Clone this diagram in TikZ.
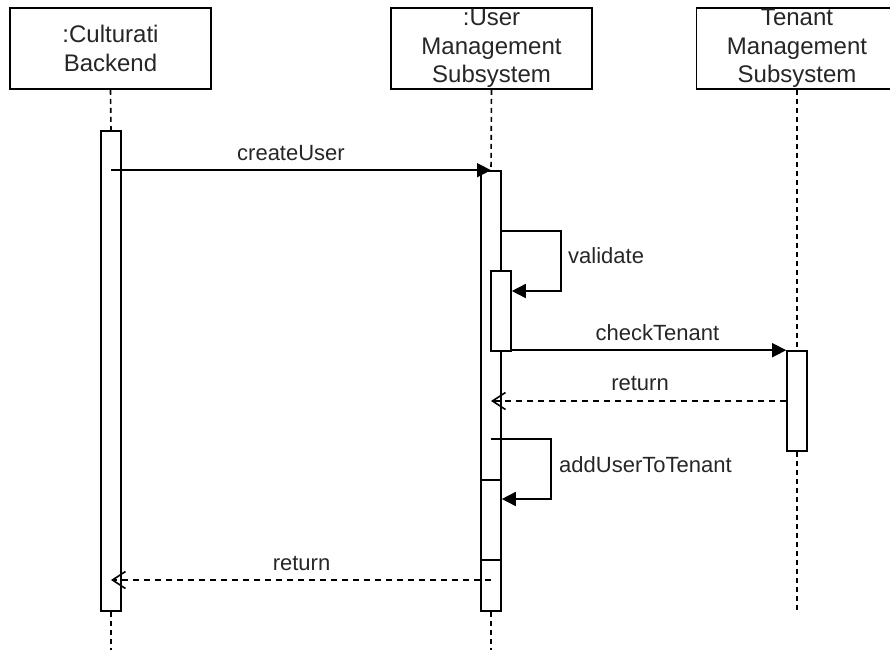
\documentclass[tikz,border=0pt]{standalone}
\usepackage{fontspec}
\setmainfont{Liberation Sans}
\usetikzlibrary{arrows.meta,calc}
\begin{document}
\begin{tikzpicture}[x=1pt,y=-1pt,
  lw/.style={line width=1.6pt},
  pbox/.style={draw,lw,fill=white,minimum width=201pt,minimum height=81pt,inner sep=0pt},
  ptext/.style={align=center,inner sep=0pt,text=black!85,font=\fontsize{24}{28.5}\selectfont},
  actbar/.style={draw,lw,fill=white,minimum width=20pt,inner sep=0pt},
  lifeline/.style={lw,dash pattern=on 5pt off 4pt},
  msg/.style={lw,-{Triangle[length=14pt,width=14pt]}},
  reply/.style={lw,dash pattern=on 6pt off 5pt,-{Straight Barb[length=13pt,width=17pt]}},
  lbl/.style={inner sep=0pt,text=black!85,font=\fontsize{22}{26}\selectfont},
]
\useasboundingbox (0,0) rectangle (890,650);

% participants
\node[pbox] (cb)  at (110.5,48.5) {};
\node[ptext] (cbLabel) at (cb.center) {:Culturati\\Backend};
\node[pbox] (ums) at (491.5,48.5) {};
\node[ptext] (umsLabel) at (ums.center) {:User\\Management\\Subsystem};
\node[pbox] (tms) at (797,48.5) {};
\node[ptext] (tmsLabel) at (tms.center) {Tenant\\Management\\Subsystem};

% lifeline ends
\coordinate (cbEnd)  at (111,650);
\coordinate (umsEnd) at (491,650);
\coordinate (tmsEnd) at (797,610);

% lifelines above the activation bars
\coordinate (cbTop)  at (111,131);
\coordinate (umsTop) at (491,171);
\coordinate (tmsTop) at (797,351);
\draw[lifeline] (cb.south)  -- (cbTop);
\draw[lifeline] (ums.south) -- (umsTop);
\draw[lifeline] (tms.south) -- (tmsTop);

% activation bars
\node[actbar,minimum height=480pt] (cbAct)  at (111,371) {};
\node[actbar,minimum height=440pt] (umsAct) at (491,391) {};
\node[actbar,minimum height=80pt]  (umsVal) at (501,311) {};
\node[actbar,minimum height=100pt] (tmsAct) at (797,401) {};
\node[actbar,minimum height=80pt]  (umsAdd) at (491,520) {};

% lifelines below the activation bars
\draw[lifeline] (cbAct.south)  -- (cbEnd);
\draw[lifeline] (umsAct.south) -- (umsEnd);
\draw[lifeline] (tmsAct.south) -- (tmsEnd);

% messages
\draw[msg] (cbAct.center |- umsAct.north) -- (umsAct.north);
\node[lbl,anchor=base] (lblCreate) at (291,160) {createUser};

\draw[msg] (umsAct.east |- 0,231) -- (561,231) |- (umsVal.east |- 0,291);
\node[lbl,anchor=base west] (lblValidate) at (568,263) {validate};

\draw[msg] (umsVal.east |- tmsAct.north west) -- (tmsAct.north west);
\node[lbl,anchor=base] (lblCheck) at (657.5,340) {checkTenant};

\draw[reply] (tmsAct.west |- 0,401) -- (umsAct.center |- 0,401);
\node[lbl,anchor=base] (lblRet1) at (640,390) {return};

\draw[msg] (umsAct.center |- 0,439) -- (551,439) |- (umsAct.east |- 0,499);
\node[lbl,anchor=base west] (lblAdd) at (559,472) {addUserToTenant};

\draw[reply] (umsAct.center |- 0,580) -- (cbAct.center |- 0,580);
\node[lbl,anchor=base] (lblRet2) at (301.5,570) {return};
\end{tikzpicture}
\end{document}
